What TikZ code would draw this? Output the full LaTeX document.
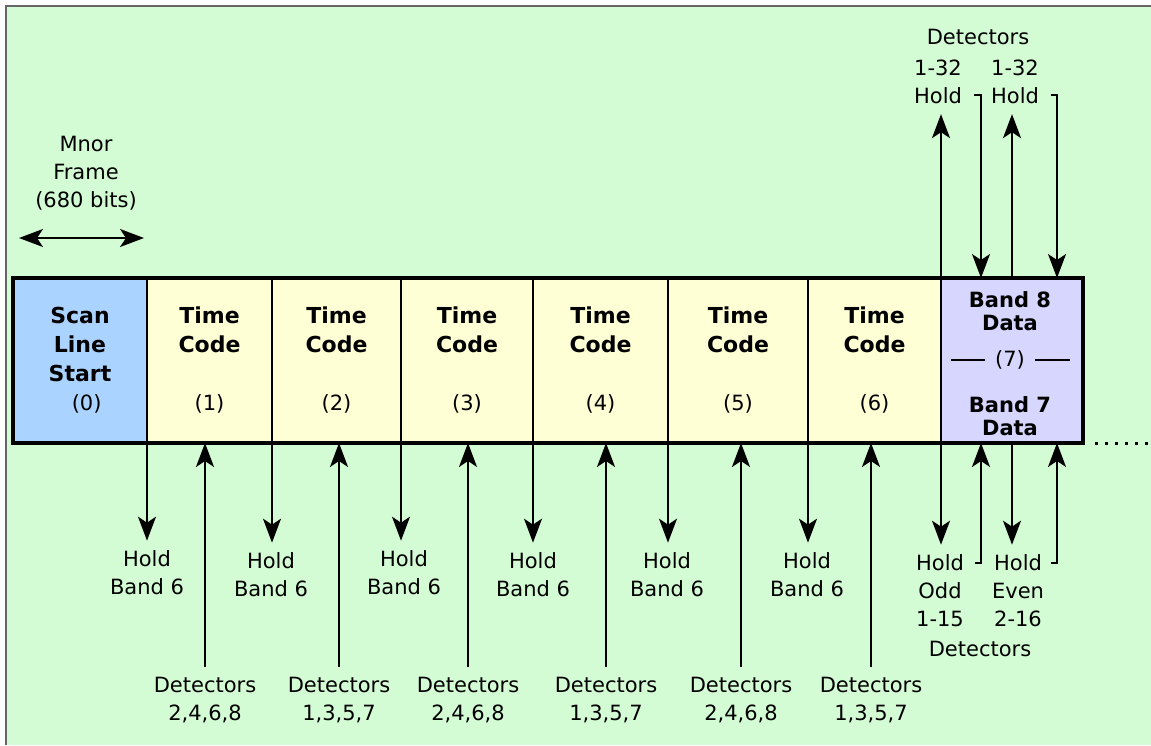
\documentclass[tikz,border=0pt]{standalone}
\usepackage{fontspec}
\setmainfont{DejaVu Sans}
\usetikzlibrary{arrows.meta,calc}

\definecolor{bggreen}{RGB}{212,252,212}
\definecolor{startblue}{RGB}{170,212,255}
\definecolor{codeyellow}{RGB}{255,255,214}
\definecolor{bandpurple}{RGB}{214,214,255}

\begin{document}
\begin{tikzpicture}[x=1pt,y=-1pt,
    cell/.style={draw=black, line width=2pt, minimum height=165pt, inner sep=0pt, outer sep=0pt,
        font=\fontsize{22}{29}\selectfont\bfseries, align=center},
    lbl/.style={font=\fontsize{21}{28}\selectfont, align=center, inner xsep=1pt, inner ysep=10pt},
    bandlbl/.style={font=\fontsize{21}{23}\selectfont\bfseries, align=center, inner sep=1pt},
    arr/.style={line width=2pt, -{Stealth[length=24pt,width=18pt,inset=6pt]}},
    dblarr/.style={line width=2pt, {Stealth[length=24pt,width=18pt,inset=6pt]}-{Stealth[length=24pt,width=18pt,inset=6pt]}}]
    \useasboundingbox (0,0) rectangle (1151,745);
    \fill[white] (0,0) rectangle (1151,745);
    \fill[bggreen] (6,6) rectangle (1151,745);
    \draw[black!60, line width=2pt] (6,745) -- (6,6) -- (1151,6);

    % minor frame
    \node[lbl] (mf) at (86,173) {Mnor\\Frame\\(680 bits)};
    \coordinate (mfl) at (19,238);
    \coordinate (mfr) at (144,238);
    \draw[dblarr] (mfl) -- (mfr);

    % scan line cells
    \node[cell, fill=startblue, minimum width=134pt] (c0) at (80,360.5) {Scan\\Line\\Start\\{\mdseries\fontsize{21}{29}\selectfont\ \ (0)}};
    \node[cell, fill=codeyellow, minimum width=125pt] (c1) at (209.5,360.5) {Time\\Code\\\mbox{}\\{\mdseries\fontsize{21}{29}\selectfont (1)}};
    \node[cell, fill=codeyellow, minimum width=129pt] (c2) at (336.5,360.5) {Time\\Code\\\mbox{}\\{\mdseries\fontsize{21}{29}\selectfont (2)}};
    \node[cell, fill=codeyellow, minimum width=132pt] (c3) at (467,360.5) {Time\\Code\\\mbox{}\\{\mdseries\fontsize{21}{29}\selectfont (3)}};
    \node[cell, fill=codeyellow, minimum width=135pt] (c4) at (600.5,360.5) {Time\\Code\\\mbox{}\\{\mdseries\fontsize{21}{29}\selectfont (4)}};
    \node[cell, fill=codeyellow, minimum width=140pt] (c5) at (738,360.5) {Time\\Code\\\mbox{}\\{\mdseries\fontsize{21}{29}\selectfont (5)}};
    \node[cell, fill=codeyellow, minimum width=133pt] (c6) at (874.5,360.5) {Time\\Code\\\mbox{}\\{\mdseries\fontsize{21}{29}\selectfont (6)}};
    \node[cell, fill=bandpurple, minimum width=142pt] (c7) at (1012,360.5) {};
    \draw[line width=4pt] (c0.north west) rectangle (c7.south east);

    % band 8 / band 7 cell
    \node[bandlbl] (b8) at (1010,311) {Band 8\\Data};
    \node[lbl, inner xsep=10pt, inner ysep=1pt] (p7) at (1010,360) {(7)};
    \node[bandlbl] (b7) at (1010,416) {Band 7\\Data};
    \draw[line width=1.5pt] (p7.west) -- ++(-34,0);
    \draw[line width=1.5pt] (p7.east) -- ++(35,0);
    \draw[line width=3pt, dash pattern=on 3pt off 7pt] ($(c7.south east)+(12,0)$) -- ++(56,0);

    % hold band 6
    \node[lbl] (hb1) at (147,573) {Hold\\Band 6};
    \node[lbl] (hb2) at (271,575) {Hold\\Band 6};
    \node[lbl] (hb3) at (404,573) {Hold\\Band 6};
    \node[lbl] (hb4) at (533,575) {Hold\\Band 6};
    \node[lbl] (hb5) at (667,575) {Hold\\Band 6};
    \node[lbl] (hb6) at (807,575) {Hold\\Band 6};
    \draw[arr] (c0.south east) -- (c0.south east |- hb1.north);
    \draw[arr] (c1.south east) -- (c1.south east |- hb2.north);
    \draw[arr] (c2.south east) -- (c2.south east |- hb3.north);
    \draw[arr] (c3.south east) -- (c3.south east |- hb4.north);
    \draw[arr] (c4.south east) -- (c4.south east |- hb5.north);
    \draw[arr] (c5.south east) -- (c5.south east |- hb6.north);

    % detectors into time code
    \node[lbl] (dt1) at (205,700) {Detectors\\2,4,6,8};
    \node[lbl] (dt2) at (339,700) {Detectors\\1,3,5,7};
    \node[lbl] (dt3) at (468,700) {Detectors\\2,4,6,8};
    \node[lbl] (dt4) at (606,700) {Detectors\\1,3,5,7};
    \node[lbl] (dt5) at (741,700) {Detectors\\2,4,6,8};
    \node[lbl] (dt6) at (871,700) {Detectors\\1,3,5,7};
    \draw[arr] (dt1.north) -- (dt1.north |- c1.south);
    \draw[arr] (dt2.north) -- (dt2.north |- c2.south);
    \draw[arr] (dt3.north) -- (dt3.north |- c3.south);
    \draw[arr] (dt4.north) -- (dt4.north |- c4.south);
    \draw[arr] (dt5.north) -- (dt5.north |- c5.south);
    \draw[arr] (dt6.north) -- (dt6.north |- c6.south);

    % band data, top side
    \node[lbl, inner ysep=1pt] (dtop) at (978,37) {Detectors};
    \node[lbl] (h1) at (938,82) {1-32\\Hold};
    \node[lbl] (h2) at (1015,82) {1-32\\Hold};
    \coordinate (t1) at (974,95);
    \coordinate (t2) at (1051,95);
    \draw[arr] (c7.north west) -- (c7.north west |- h1.south);
    \draw[arr] (c7.north) -- (c7.north |- h2.south);
    \draw[arr] (t1) -| ($(c7.north west)+(40,0)$);
    \draw[arr] (t2) -| ($(c7.north west)+(116,0)$);

    % band data, bottom side
    \node[lbl] (ho) at (940,591) {Hold\\Odd\\1-15};
    \node[lbl] (he) at (1018,591) {Hold\\Even\\2-16};
    \node[lbl, inner ysep=1pt] (dbot) at (980,649) {Detectors};
    \coordinate (t3) at (975,563);
    \coordinate (t4) at (1051,563);
    \draw[arr] (c7.south west) -- (c7.south west |- ho.north);
    \draw[arr] (c7.south) -- (c7.south |- he.north);
    \draw[arr] (t3) -| ($(c7.south west)+(40,0)$);
    \draw[arr] (t4) -| ($(c7.south west)+(116,0)$);
\end{tikzpicture}
\end{document}
